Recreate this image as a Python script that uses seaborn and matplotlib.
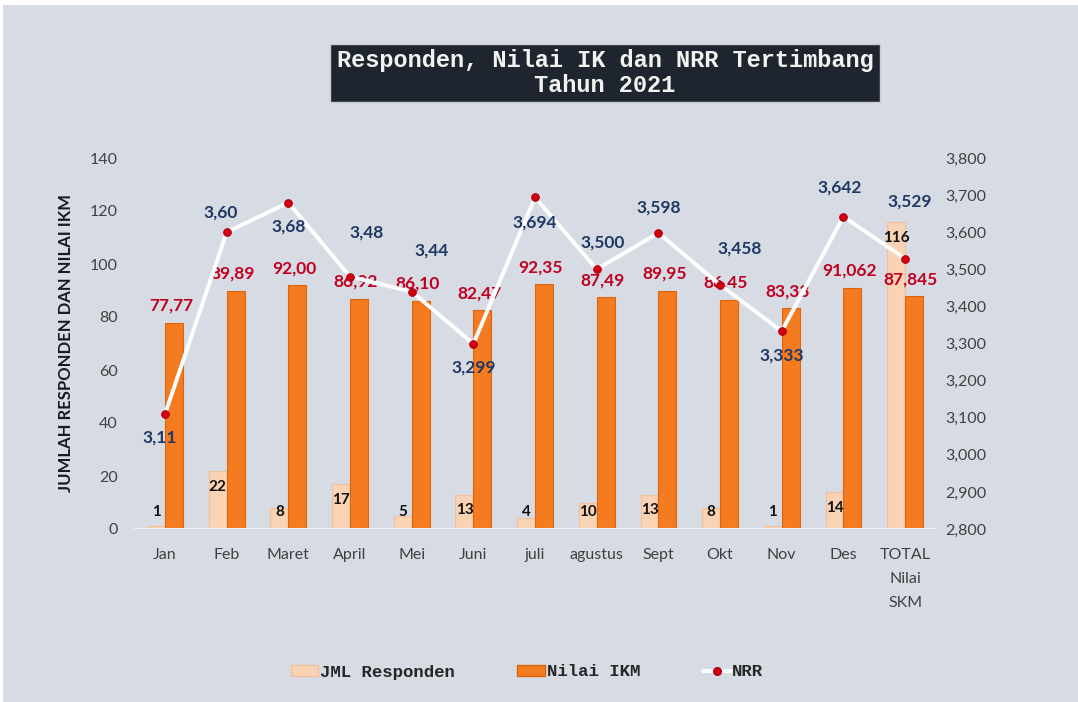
import numpy as np
import pandas as pd
import matplotlib
matplotlib.use('Agg')
import matplotlib.pyplot as plt
from matplotlib.patches import Rectangle
from matplotlib.lines import Line2D
from matplotlib.ticker import FuncFormatter
import seaborn as sns

# data
months = ['Jan', 'Feb', 'Maret', 'April', 'Mei', 'Juni', 'juli', 'agustus',
          'Sept', 'Okt', 'Nov', 'Des', 'TOTAL\nNilai\nSKM']
jml = [1, 22, 8, 17, 5, 13, 4, 10, 13, 8, 1, 14, 116]
ikm = [77.77, 89.89, 92.00, 86.92, 86.10, 82.47, 92.35, 87.49, 89.95, 86.45, 83.33, 91.062, 87.845]
ikm_text = ['77,77', '89,89', '92,00', '86,92', '86,10', '82,47', '92,35', '87,49',
            '89,95', '86,45', '83,33', '91,062', '87,845']
nrr = [3.11, 3.60, 3.68, 3.48, 3.44, 3.299, 3.694, 3.500, 3.598, 3.458, 3.333, 3.642, 3.529]
nrr_text = ['3,11', '3,60', '3,68', '3,48', '3,44', '3,299', '3,694', '3,500',
            '3,598', '3,458', '3,333', '3,642', '3,529']

# where each NRR label sits relative to its point (pixels)
nrr_label_offsets = [(-5, -24), (-6, 20), (0, -24), (17, 44), (20, 41), (0, -24), (0, -25),
                     (6, 27), (0, 25), (20, 36), (0, -24), (-4, 29), (5, 57)]

bg = '#D7DCE4'
beige = '#FAD3B4'
orange = '#F47B1F'

sns.set_style('white')
plt.rcParams['font.family'] = ['Lato', 'DejaVu Sans']

fig = plt.figure(figsize=(10.78, 7.02), dpi=100, facecolor='white')
fig.patches.append(Rectangle((3 / 1078, 0), 1, (702 - 5) / 702, transform=fig.transFigure,
                             facecolor=bg, edgecolor='none', zorder=-10))

ax = fig.add_axes([134.2 / 1078, (702 - 529) / 702, 801.7 / 1078, 371 / 702])
ax.patch.set_alpha(0)

df = pd.DataFrame({
    'bulan': months * 2,
    'seri': ['JML Responden'] * len(months) + ['Nilai IKM'] * len(months),
    'nilai': jml + ikm,
})
sns.barplot(data=df, x='bulan', y='nilai', hue='seri', order=months,
            hue_order=['JML Responden', 'Nilai IKM'], palette=[beige, orange],
            width=0.58, saturation=1, ax=ax, legend=False)
for bar in ax.containers[0]:
    bar.set_edgecolor('#F3C09A')
    bar.set_linewidth(0.8)
for bar in ax.containers[1]:
    bar.set_edgecolor('#D9650F')
    bar.set_linewidth(0.8)

ax.set_ylim(0, 140)
ax.set_yticks(range(0, 141, 20))
ax.set_xlim(-0.5, 12.5)
ax.axhline(0, color='#EEF0F4', lw=1.5, zorder=1)
for s in ax.spines.values():
    s.set_visible(False)
ax.tick_params(axis='y', length=0, pad=12, labelsize=11.5, labelcolor='#404040')
ax.tick_params(axis='x', length=0, pad=14, labelsize=11.5, labelcolor='#404040')
for t in ax.get_xticklabels():
    t.set_linespacing(1.9)
    t.set_verticalalignment('top')
ax.set_xlabel('')
ax.set_ylabel('JUMLAH RESPONDEN DAN NILAI IKM', fontsize=12, fontweight='bold', color='#1A1A1A')
ax.yaxis.set_label_coords(-0.075, 0.5)

# JML labels: inside top of bar, not lower than a minimum height
for bar, v in zip(ax.containers[0], jml):
    xc = bar.get_x() + bar.get_width() / 2
    ax.text(xc, max(v - 6, 6.4), str(v), ha='center', va='center',
            fontsize=11, fontweight='bold', color='#111111')
# IKM labels above bars
for bar, txt in zip(ax.containers[1], ikm_text):
    xc = bar.get_x() + bar.get_width() / 2
    ax.annotate(txt, (xc - 0.05, bar.get_height()), xytext=(0, 17), textcoords='offset pixels',
                ha='center', va='center', fontsize=12.5, fontweight='bold', color='#C00020')

ax2 = ax.twinx()
ax2.patch.set_alpha(0)
x = np.arange(len(months))
sns.lineplot(x=x, y=nrr, ax=ax2, color='white', lw=2.8, marker='o', markersize=5.5,
             markerfacecolor='#D00010', markeredgecolor='#B00010', legend=False)
ax2.set_ylim(2.8, 3.8)
ax2.set_yticks(np.arange(2.8, 3.81, 0.1))
ax2.yaxis.set_major_formatter(FuncFormatter(lambda v, p: f'{v:.3f}'.replace('.', ',')))
ax2.tick_params(axis='y', length=0, pad=7, labelsize=11.5, labelcolor='#404040')
for s in ax2.spines.values():
    s.set_visible(False)
ax2.set_xlim(-0.5, 12.5)

for xi, v, txt, (dx, dy) in zip(x, nrr, nrr_text, nrr_label_offsets):
    ax2.annotate(txt, (xi, v), xytext=(dx, dy), textcoords='offset pixels',
                 ha='center', va='center', fontsize=12.5, fontweight='bold', color='#1F3864')

# title box
fig.patches.append(Rectangle((330 / 1078, (702 - 102) / 702), 550 / 1078, 58 / 702,
                             transform=fig.transFigure, facecolor='#1F252E', edgecolor='#C8CDD5',
                             lw=1, zorder=5))
fig.text(605 / 1078, (702 - 73) / 702, 'Responden, Nilai IK dan NRR Tertimbang\nTahun 2021',
         ha='center', va='center', family='Liberation Mono', fontweight='bold',
         fontsize=17, color='#F2F2F2', linespacing=1.15, zorder=6)

handles = [Rectangle((0, 0), 1, 1, facecolor=beige, edgecolor='#F3C09A'),
           Rectangle((0, 0), 1, 1, facecolor=orange, edgecolor='#D9650F'),
           Line2D([], [], color='white', lw=2.8, marker='o', markersize=5.5,
                  markerfacecolor='#D00010', markeredgecolor='#B00010')]
fig.legend(handles, ['JML Responden', 'Nilai IKM', 'NRR'], loc='center',
           bbox_to_anchor=(527 / 1078, 30 / 702), ncol=3, frameon=False,
           prop={'family': 'Liberation Mono', 'weight': 'bold', 'size': 12.5},
           handlelength=1.6, handletextpad=0.1, columnspacing=3.6, handleheight=0.6)

fig.savefig('out.png', dpi=100, facecolor=fig.get_facecolor())
